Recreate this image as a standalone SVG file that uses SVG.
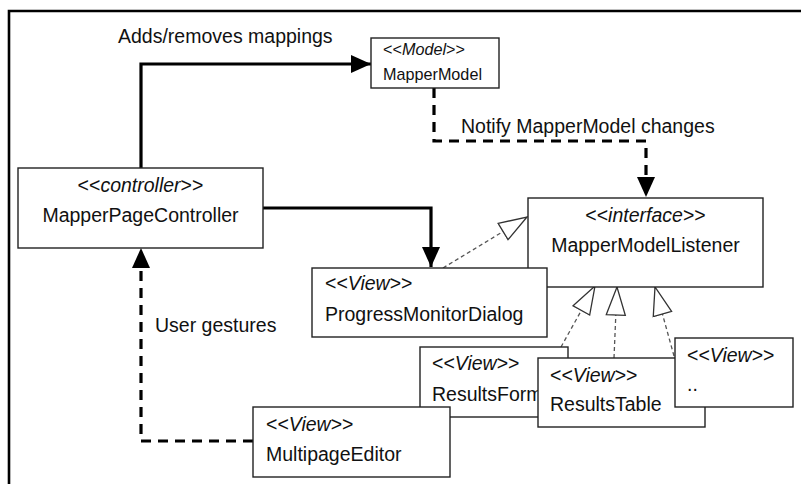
<svg xmlns="http://www.w3.org/2000/svg" width="801" height="484" viewBox="0 0 801 484">
<style>
  text { font-family: "Liberation Sans", Arial, Helvetica, sans-serif; font-size: 19.5px; fill: #111; }
  .small { font-size: 16.2px; }
  .it { font-style: italic; }
  .box { fill: #fff; stroke: #222; stroke-width: 1.4; }
  .thick { fill: none; stroke: #000; stroke-width: 3.2; }
  .dash { fill: none; stroke: #000; stroke-width: 3.2; stroke-dasharray: 10 7; }
  .real { fill: none; stroke: #555; stroke-width: 1.3; stroke-dasharray: 4 3; }
</style>
<defs>
  <marker id="solid" markerUnits="userSpaceOnUse" markerWidth="22" markerHeight="20" refX="20" refY="9" orient="auto" viewBox="0 0 22 20">
    <path d="M0,0 L20,9 L0,18 z" fill="#000"/>
  </marker>
  <marker id="hollow" markerUnits="userSpaceOnUse" markerWidth="32" markerHeight="24" refX="29" refY="11" orient="auto" viewBox="0 0 32 24">
    <path d="M1,1.5 L29,11 L1,20.5 z" fill="#fff" stroke="#333" stroke-width="1.3"/>
  </marker>
</defs>
<rect width="801" height="484" fill="#fff"/>
<path d="M9,484 V11 H801" fill="none" stroke="#000" stroke-width="2.6"/>

<g id="connectors">
  <path class="thick" d="M141,168 V64 H371" marker-end="url(#solid)"/>
  <path class="thick" d="M263,208 H431 V267" marker-end="url(#solid)"/>
  <path class="dash" d="M434,88 V141 H646 V197" marker-end="url(#solid)"/>
  <path class="dash" d="M253,441 H141 V248" marker-end="url(#solid)"/>
  <path class="real" d="M443,268 L527,217" marker-end="url(#hollow)"/>
  <path class="real" d="M561,347 L595,286" marker-end="url(#hollow)"/>
  <path class="real" d="M614,358 L617,287" marker-end="url(#hollow)"/>
  <path class="real" d="M674,356 L655,287" marker-end="url(#hollow)"/>
  <text x="118" y="43">Adds/removes mappings</text>
  <text x="461" y="133">Notify MapperModel changes</text>
  <text x="155" y="332">User gestures</text>
</g>

<g id="MapperModel">
  <rect class="box" x="371" y="38" width="128" height="50"/>
  <text class="small" x="383" y="55">&lt;&lt;<tspan class="it">Model</tspan>&gt;&gt;</text>
  <text class="small" x="383" y="80">MapperModel</text>
</g>

<g id="MapperPageController">
  <rect class="box" x="18" y="168" width="245" height="80"/>
  <text x="140.5" y="192" text-anchor="middle">&lt;&lt;<tspan class="it">controller</tspan>&gt;&gt;</text>
  <text x="140.5" y="222" text-anchor="middle">MapperPageController</text>
</g>

<g id="MapperModelListener">
  <rect class="box" x="528" y="198" width="235" height="89"/>
  <text x="645.5" y="222" text-anchor="middle">&lt;&lt;<tspan class="it">interface</tspan>&gt;&gt;</text>
  <text x="645.5" y="252" text-anchor="middle">MapperModelListener</text>
</g>

<g id="ProgressMonitorDialog">
  <rect class="box" x="312" y="268" width="235" height="69"/>
  <text x="325" y="290">&lt;&lt;<tspan class="it">View</tspan>&gt;&gt;</text>
  <text x="325" y="321">ProgressMonitorDialog</text>
</g>

<g id="ResultsForm">
  <rect class="box" x="420" y="347" width="148" height="70"/>
  <text x="432" y="370">&lt;&lt;<tspan class="it">View</tspan>&gt;&gt;</text>
  <text x="432" y="401">ResultsForm</text>
</g>

<g id="ResultsTable">
  <rect class="box" x="538" y="358" width="167" height="69"/>
  <text x="550" y="382">&lt;&lt;<tspan class="it">View</tspan>&gt;&gt;</text>
  <text x="550" y="411">ResultsTable</text>
</g>

<g id="OtherView">
  <rect class="box" x="675" y="338" width="118" height="69"/>
  <text x="687" y="362">&lt;&lt;<tspan class="it">View</tspan>&gt;&gt;</text>
  <text x="687" y="391">..</text>
</g>

<g id="MultipageEditor">
  <rect class="box" x="253" y="407" width="197" height="70"/>
  <text x="266" y="431">&lt;&lt;<tspan class="it">View</tspan>&gt;&gt;</text>
  <text x="266" y="461">MultipageEditor</text>
</g>
</svg>
